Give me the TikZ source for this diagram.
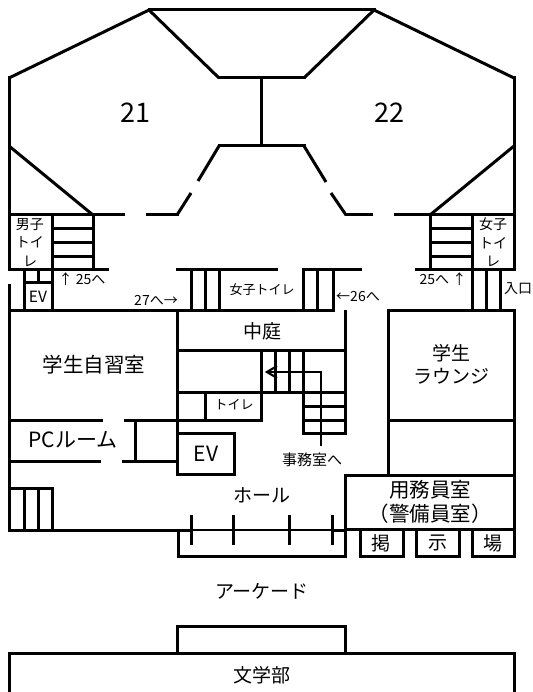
\documentclass[tikz,border=0pt]{standalone}
\usepackage{fontspec}
\setmainfont{Noto Sans CJK JP}
\tikzset{
  wall/.style={draw=black,line width=3pt,line cap=rect,line join=miter},
  slant/.style={draw=black,line width=3pt,line cap=butt,line join=miter},
  thinwall/.style={draw=black,line width=1.2pt},
  tick/.style={draw=black,line width=3pt},
  guide/.style={draw=black,line width=1.4pt},
  big/.style={font=\fontsize{27}{30}\selectfont,inner sep=0pt,text=black},
  mid/.style={font=\fontsize{19}{23}\selectfont,inner sep=0pt,text=black,align=center},
  wide/.style={font=\fontsize{20.5}{24}\selectfont,inner sep=0pt,text=black,align=center},
  sml/.style={font=\fontsize{14}{18.5}\selectfont,inner sep=0pt,text=black,align=center}
}
\begin{document}
\begin{tikzpicture}[x=1pt,y=-1pt]
\path[use as bounding box,fill=white] (0,0) rectangle (532,692);
% upper lecture halls
\path[slant] (9,78) -- (149,10);
\path[slant] (514,78) -- (374,10);
\path[wall] (149,10) -- (374,10);
\path[slant] (149,10) -- (219,78);
\path[slant] (374,10) -- (304,78);
\path[wall] (219,78) -- (304,78);
\path[wall] (219,146) -- (304,146);
\path[wall] (261.5,78) -- (261.5,146);
\path[slant] (219,146) -- (198,181);
\path[slant] (191,193) -- (177,215);
\path[slant] (304,146) -- (326,182);
\path[slant] (331,193) -- (346,215);
\path[slant] (9,146) -- (93,215);
\path[slant] (514,146) -- (430,215);
% outer walls
\path[wall] (9,78) -- (9,269);
\path[wall] (514,78) -- (514,269);
\path[slant] (9,284) -- (9,310);
\path[wall] (9,215) -- (123,215);
\path[wall] (147,215) -- (177,215);
\path[wall] (346,215) -- (371,215);
\path[wall] (395,215) -- (514,215);
% left stairs and toilet
\path[wall] (52,215) -- (52,310);
\path[wall] (93,215) -- (93,269);
\path[wall] (52,228.5) -- (93,228.5);
\path[wall] (52,242.5) -- (93,242.5);
\path[wall] (52,256.5) -- (93,256.5);
\path[wall] (9,269) -- (107,269);
\path[wall] (24,269) -- (24,310);
\path[wall] (38,269) -- (38,282);
\path[wall] (24,282.5) -- (52,282.5);
% right stairs and toilet
\path[wall] (430,215) -- (430,269);
\path[wall] (472,215) -- (472,310);
\path[wall] (430,228.5) -- (472,228.5);
\path[wall] (430,242.5) -- (472,242.5);
\path[wall] (430,256.5) -- (472,256.5);
\path[wall] (416,269) -- (514,269);
\path[wall] (486,269) -- (486,310);
\path[wall] (500,269) -- (500,310);
% centre block
\path[wall] (177,269) -- (276,269);
\path[wall] (304,269) -- (360,269);
\path[wall] (191,269) -- (191,310);
\path[wall] (205,269) -- (205,310);
\path[wall] (219,269) -- (219,310);
\path[wall] (303,269) -- (303,310);
\path[wall] (317,269) -- (317,310);
\path[wall] (333,269) -- (333,310);
\path[wall] (9,310.5) -- (333,310.5);
\path[wall] (345.5,311) -- (345.5,433);
\path[wall] (177.5,310) -- (177.5,474);
\path[wall] (177,350.5) -- (345,350.5);
\path[wall] (177,392) -- (345,392);
\path[wall] (261,350) -- (261,420);
\path[wall] (275,350) -- (275,392);
\path[wall] (289,350) -- (289,392);
\path[wall] (303,350) -- (303,433);
\path[wall] (303,406) -- (345,406);
\path[wall] (303,420) -- (345,420);
\path[wall] (303,433) -- (345,433);
\path[wall] (205,392) -- (205,420);
% PC room
\path[wall] (9,310) -- (9,530);
\path[wall] (9,420) -- (101,420);
\path[wall] (125,420) -- (261,420);
\path[wall] (135.5,420) -- (135.5,461);
\path[wall] (9,461) -- (99,461);
\path[wall] (123,461) -- (177,461);
\path[wall] (177.5,433) rectangle (234,474);
% lower-left stairs and hall
\path[wall] (9,488) -- (52,488);
\path[wall] (24,488) -- (24,530);
\path[wall] (38,488) -- (38,530);
\path[wall] (52,488) -- (52,530);
\path[wall] (9,530) -- (191,530);
\path[wall] (332,530) -- (345,530);
\path[thinwall] (191,530) -- (233,530);
\path[thinwall] (233,530) -- (289,530);
\path[thinwall] (289,530) -- (332,530);
\path[tick] (191.5,515) -- (191.5,545);
\path[tick] (233.5,515) -- (233.5,545);
\path[tick] (289.5,515) -- (289.5,545);
\path[tick] (332.5,515) -- (332.5,545);
\path[wall] (178,530) -- (178,556) -- (345.5,556);
\path[wall] (345.5,475) -- (345.5,556);
% right block
\path[wall] (388,310) rectangle (514,475);
\path[wall] (388,420) -- (514,420);
\path[wall] (345.5,475) -- (514,475) -- (514,529);
\path[wall] (345.5,529) -- (514,529);
\path[wall] (360.5,529) -- (360.5,556) -- (403,556) -- (403,529);
\path[wall] (416.5,529) -- (416.5,556) -- (459,556) -- (459,529);
\path[wall] (472.5,529) -- (472.5,556) -- (514,556) -- (514,529);
% bottom building
\path[wall] (177,653) -- (177,626) -- (345,626) -- (345,653);
\path[wall] (9,692) -- (9,653) -- (514,653) -- (514,692);
% labels
\node[big] (n21) at (135,113) {21};
\node[big] (n22) at (389,113) {22};
\node[sml] (mwc) at (30,242.5) {男子\\トイ\\レ};
\node[sml] (fwc) at (493,242.5) {女子\\トイ\\レ};
\node[sml,font=\fontsize{15.5}{18}\selectfont] (ev1) at (38,297) {EV};
\node[sml] (to25a) at (82,279.5) {↑ 25へ};
\node[sml] (to27) at (156,300) {27へ→};
\node[sml,font=\fontsize{13}{16}\selectfont] (fwc2) at (262,290) {女子トイレ};
\node[sml] (to26) at (358,297) {←26へ};
\node[sml] (to25b) at (443,279.5) {25へ ↑};
\node[sml] (entry) at (518,289) {入口};
\node[mid] (court) at (262,331) {中庭};
\node[wide] (study) at (94,365) {学生自習室};
\node[mid] (lounge) at (451,364) {学生\\ラウンジ};
\node[wide,font=\fontsize{21}{24}\selectfont] (pc) at (73,440) {PCルーム};
\node[wide,font=\fontsize{21}{24}\selectfont] (ev2) at (206,454) {EV};
\node[sml,font=\fontsize{13}{16}\selectfont] (wc3) at (234,405) {トイレ};
\node[sml,font=\fontsize{15}{18}\selectfont] (office) at (312,460) {事務室へ};
\node[mid] (hall) at (262,495) {ホール};
\node[wide] (janitor) at (430,502) {用務員室\\（警備員室）};
\node[mid] (kei) at (381,543) {掲};
\node[mid] (ji) at (438,543) {示};
\node[mid] (jo) at (493,543) {場};
\node[mid] (arcade) at (262,591) {アーケード};
\node[mid] (lit) at (262,675) {文学部};
% guide arrow
\coordinate (g0) at (321,446);
\coordinate (g1) at (321,372);
\coordinate (g2) at (267,372);
\path[guide] (g0) -- (g1) -- (g2);
\path[draw=black,line width=2.2pt,line join=miter] (277,366) -- (267,372) -- (277,378);
\end{tikzpicture}
\end{document}
